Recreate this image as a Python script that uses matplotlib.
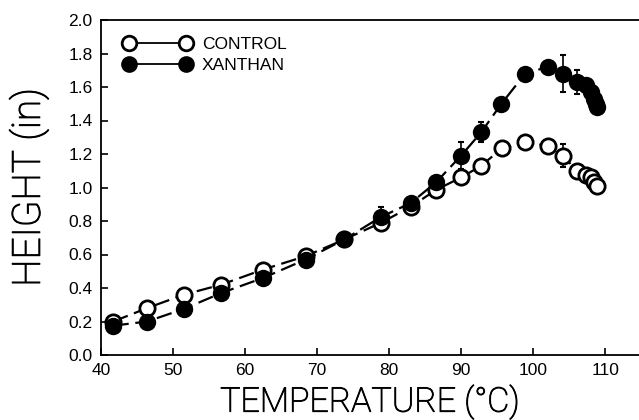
import matplotlib
matplotlib.use("Agg")
import matplotlib.pyplot as plt
import matplotlib.patheffects as pe
from matplotlib.lines import Line2D

# Data
temp_control = [41.7, 46.4, 51.5, 56.7, 62.5, 68.4, 73.8, 78.9, 83.0, 86.5, 90.0, 92.8,
                95.7, 98.9, 102.0, 104.1, 106.1, 107.4, 108.0, 108.5, 108.8]
height_control = [0.20, 0.28, 0.36, 0.42, 0.51, 0.59, 0.69, 0.79, 0.885, 0.985, 1.06, 1.13,
                  1.235, 1.27, 1.25, 1.19, 1.10, 1.075, 1.06, 1.035, 1.01]
err_control = [0, 0, 0, 0, 0, 0, 0, 0, 0, 0, 0, 0,
               0, 0, 0, 0.07, 0, 0, 0, 0, 0]

temp_xanthan = [41.7, 46.4, 51.5, 56.7, 62.5, 68.4, 73.8, 78.9, 83.0, 86.5, 90.0, 92.8,
                95.6, 98.9, 102.0, 104.2, 106.1, 107.4, 108.0, 108.4, 108.7, 108.8]
height_xanthan = [0.175, 0.20, 0.275, 0.37, 0.46, 0.57, 0.69, 0.825, 0.907, 1.03, 1.19, 1.33,
                  1.50, 1.68, 1.72, 1.68, 1.63, 1.61, 1.57, 1.53, 1.50, 1.48]
err_xanthan = [0, 0, 0, 0, 0, 0, 0, 0.06, 0, 0, 0.08, 0.06,
               0, 0, 0, 0.11, 0.07, 0, 0, 0, 0, 0]

x_ticks = [40, 50, 60, 70, 80, 90, 100, 110]
y_ticks = [0.0, 0.2, 0.4, 0.6, 0.8, 1.0, 1.2, 1.4, 1.6, 1.8, 2.0]

plt.rcParams['font.family'] = ['Liberation Sans', 'DejaVu Sans']

fig = plt.figure(figsize=(6.39, 4.20), dpi=100)
ax = fig.add_axes([101/639, 65/420, 538/639, 335/420])

dash = (0, (7, 3))
ms = 11
ax.errorbar(temp_control, height_control, yerr=err_control, fmt='none', ecolor='black',
            elinewidth=1.2, capsize=2.5, capthick=1.5, zorder=2)
ax.errorbar(temp_xanthan, height_xanthan, yerr=err_xanthan, fmt='none', ecolor='black',
            elinewidth=1.2, capsize=2.5, capthick=1.5, zorder=2)
ax.plot(temp_control, height_control, linestyle=dash, color='black', lw=1.6,
        marker='o', markersize=ms, markerfacecolor='white', markeredgecolor='black',
        markeredgewidth=2.0, zorder=3)
ax.plot(temp_xanthan, height_xanthan, linestyle=dash, color='black', lw=1.6,
        marker='o', markersize=ms, markerfacecolor='black', markeredgecolor='black',
        markeredgewidth=1.5, zorder=4)

ax.set_xlim(40, 114.7)
ax.set_ylim(0, 2.0)
ax.set_xticks(x_ticks)
ax.set_yticks(y_ticks)
ax.set_yticklabels([f"{v:.1f}" for v in y_ticks])
ax.tick_params(direction='in', length=5, width=1.2, labelsize=12.5, pad=6)
for s in ['left', 'bottom', 'top']:
    ax.spines[s].set_linewidth(1.3)
ax.spines['right'].set_visible(False)

thick = [pe.withStroke(linewidth=0.7, foreground='black')]
label_font = dict(family=['Roboto', 'DejaVu Sans'], weight='light', color='black')
xl = ax.set_xlabel('TEMPERATURE (°C)', fontsize=24.5, **label_font)
yl = ax.set_ylabel('HEIGHT (in)', fontsize=28, **label_font)
xl.set_path_effects(thick)
yl.set_path_effects(thick)
ax.xaxis.set_label_coords(0.5, -0.09)
ax.yaxis.set_label_coords(-0.097, 0.50)

handles = [
    Line2D([0], [0], color='black', lw=1.3, marker='o', markersize=10.5,
           markerfacecolor='white', markeredgewidth=2.0),
    Line2D([0], [0], color='black', lw=1.3, marker='o', markersize=10.5,
           markerfacecolor='black', markeredgewidth=1.5),
]
leg = ax.legend(handles, ['CONTROL', 'XANTHAN'], loc='upper left', frameon=False,
                numpoints=2, handlelength=3.9, handletextpad=0.6, labelspacing=0.3,
                prop=dict(size=12.5), bbox_to_anchor=(0.02, 0.985), borderaxespad=0.3)

fig.savefig('out.png', dpi=100)
